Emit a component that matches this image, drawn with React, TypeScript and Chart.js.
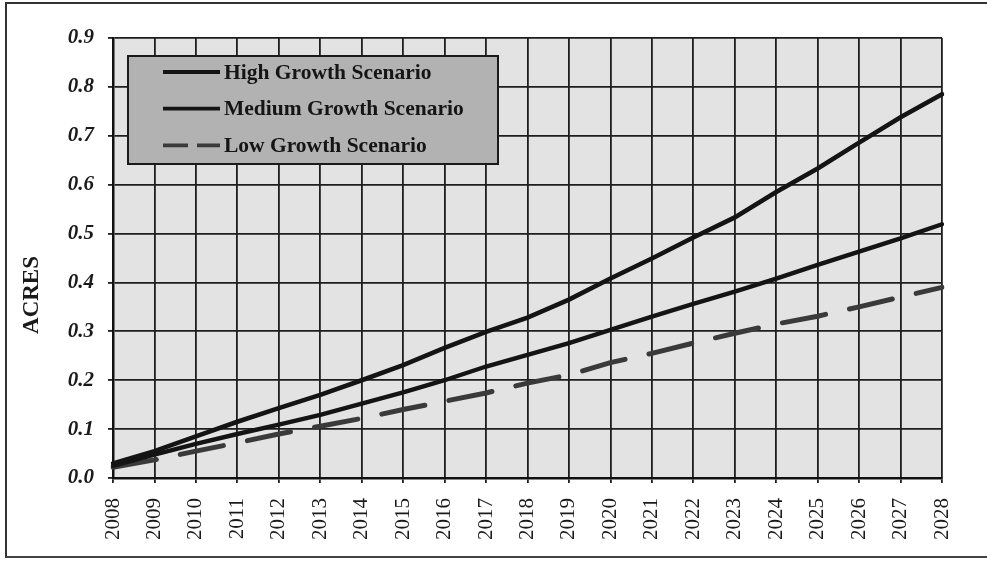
import React, { useEffect, useRef } from "react";
import { Chart, registerables } from "chart.js";

Chart.register(...registerables);

const years = [
  "2008", "2009", "2010", "2011", "2012", "2013", "2014", "2015", "2016", "2017",
  "2018", "2019", "2020", "2021", "2022", "2023", "2024", "2025", "2026", "2027", "2028",
];

const highGrowth = [
  0.03, 0.055, 0.085, 0.115, 0.143, 0.17, 0.2, 0.231, 0.266, 0.299,
  0.328, 0.365, 0.408, 0.449, 0.492, 0.533, 0.585, 0.633, 0.686, 0.738, 0.785,
];

const mediumGrowth = [
  0.025, 0.048, 0.07, 0.09, 0.109, 0.129, 0.152, 0.175, 0.2, 0.228,
  0.252, 0.276, 0.303, 0.33, 0.356, 0.381, 0.408, 0.436, 0.463, 0.49, 0.519,
];

const lowGrowth = [
  0.022, 0.037, 0.055, 0.072, 0.09, 0.106, 0.122, 0.14, 0.157, 0.174,
  0.194, 0.211, 0.236, 0.255, 0.276, 0.296, 0.315, 0.331, 0.35, 0.37, 0.39,
];

const seriesNames = ["High Growth Scenario", "Medium Growth Scenario", "Low Growth Scenario"];
const yTitle = "ACRES";

const SERIF = '"Liberation Serif", "Times New Roman", serif';

export default function App() {
  const canvasRef = useRef<HTMLCanvasElement | null>(null);

  useEffect(() => {
    document.body.style.margin = "0";
    const canvas = canvasRef.current;
    if (!canvas) return;

    const bgPlugin = {
      id: "plotBg",
      beforeDraw(chart: any) {
        const { ctx, chartArea } = chart;
        ctx.save();
        ctx.fillStyle = "#e3e3e3";
        ctx.fillRect(chartArea.left, chartArea.top, chartArea.right - chartArea.left, chartArea.bottom - chartArea.top);
        ctx.restore();
      },
    };

    const overlayPlugin = {
      id: "overlay",
      afterDraw(chart: any) {
        const { ctx, chartArea } = chart;
        ctx.save();
        ctx.translate(32, 295);
        ctx.rotate(-Math.PI / 2);
        ctx.fillStyle = "#1a1a1a";
        ctx.font = `bold 23px ${SERIF}`;
        ctx.textAlign = "center";
        ctx.textBaseline = "middle";
        ctx.fillText(yTitle, 0, 0);
        ctx.restore();

        const lx = chartArea.left + 15;
        const ly = chartArea.top + 18;
        const lw = 370;
        const lh = 108;
        ctx.save();
        ctx.fillStyle = "#b2b2b2";
        ctx.fillRect(lx, ly, lw, lh);
        ctx.lineWidth = 2;
        ctx.strokeStyle = "#1a1a1a";
        ctx.strokeRect(lx, ly, lw, lh);
        chart.data.datasets.forEach((ds: any, i: number) => {
          const rowY = ly + 16 + i * 36.7;
          ctx.beginPath();
          ctx.lineWidth = 3.8;
          ctx.strokeStyle = ds.borderColor;
          ctx.setLineDash(ds.borderDash && ds.borderDash.length ? [25, 9] : []);
          ctx.lineCap = "butt";
          ctx.moveTo(lx + 35, rowY);
          ctx.lineTo(lx + 92, rowY);
          ctx.stroke();
          ctx.setLineDash([]);
          ctx.fillStyle = "#151515";
          ctx.font = `bold 21.5px ${SERIF}`;
          ctx.textAlign = "left";
          ctx.textBaseline = "middle";
          ctx.fillText(ds.label, lx + 96, rowY + 1);
        });
        ctx.restore();
      },
    };

    const chart = new Chart(canvas, {
      type: "line",
      data: {
        labels: years,
        datasets: [
          {
            label: seriesNames[0],
            data: highGrowth,
            borderColor: "#141414",
            borderWidth: 4.6,
            pointRadius: 0,
            tension: 0,
            borderCapStyle: "round",
          },
          {
            label: seriesNames[1],
            data: mediumGrowth,
            borderColor: "#141414",
            borderWidth: 4.4,
            pointRadius: 0,
            tension: 0,
            borderCapStyle: "round",
          },
          {
            label: seriesNames[2],
            data: lowGrowth,
            borderColor: "#3a3a3a",
            borderWidth: 5,
            borderDash: [44, 24.5],
            pointRadius: 0,
            tension: 0,
            borderCapStyle: "round",
          },
        ],
      },
      options: {
        animation: false,
        responsive: true,
        maintainAspectRatio: false,
        layout: { padding: { left: 0, right: 45, top: 38, bottom: 0 } },
        plugins: {
          legend: { display: false },
          tooltip: { enabled: false },
          title: { display: false },
        },
        scales: {
          x: {
            type: "category",
            offset: false,
            afterFit: (scale: any) => {
              scale.height = 83;
            },
            grid: {
              color: "#1e1e1e",
              lineWidth: 1.8,
              tickLength: 5,
              drawTicks: true,
            },
            border: { display: true, color: "#111", width: 2.5 },
            ticks: {
              autoSkip: false,
              maxRotation: 90,
              minRotation: 90,
              padding: 15,
              color: "#1a1a1a",
              font: { family: SERIF, size: 21 },
            },
          },
          y: {
            min: 0,
            max: 0.9,
            afterFit: (scale: any) => {
              scale.width = 113;
            },
            grid: {
              color: "#1e1e1e",
              lineWidth: 1.8,
              tickLength: 5,
              drawTicks: true,
            },
            border: { display: true, color: "#111", width: 2.5 },
            ticks: {
              stepSize: 0.1,
              padding: 14,
              color: "#1a1a1a",
              font: { family: SERIF, size: 21, style: "italic", weight: "bold" },
              callback: (v: any) => Number(v).toFixed(1),
            },
          },
        },
      },
      plugins: [bgPlugin, overlayPlugin],
    });

    return () => {
      chart.destroy();
    };
  }, []);

  return (
    <div style={{ position: "relative", width: 987, height: 561, background: "#fff" }}>
      <div
        style={{
          position: "absolute",
          left: 5,
          top: 2,
          width: 982,
          height: 556,
          borderLeft: "2px solid #333",
          borderTop: "2px solid #333",
          borderBottom: "2px solid #444",
          boxSizing: "border-box",
          pointerEvents: "none",
        }}
      />
      <canvas ref={canvasRef} style={{ position: "absolute", left: 0, top: 0, width: 987, height: 561 }} />
    </div>
  );
}
